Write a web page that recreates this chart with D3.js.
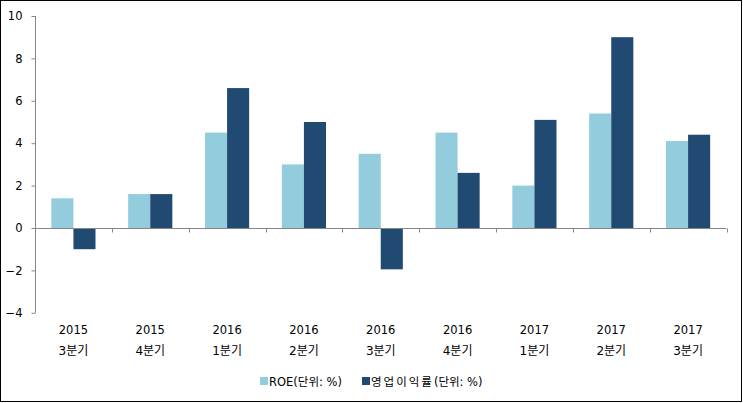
<!DOCTYPE html>
<html>
<head>
<meta charset="utf-8">
<script src="https://cdn.jsdelivr.net/npm/d3@7"></script>
<style>
  body { margin: 0; background: #fff; }
  svg { display: block; }
  text { font-family: "DejaVu Sans", "Noto Sans CJK KR", sans-serif; fill: #000; }
</style>
</head>
<body>
<div id="chart"></div>
<script>
// Data
const years = ['2015', '2015', '2016', '2016', '2016', '2016', '2017', '2017', '2017'];
const quarters = ['3분기', '4분기', '1분기', '2분기', '3분기', '4분기', '1분기', '2분기', '3분기'];
const roe = [1.4, 1.6, 4.5, 3.0, 3.5, 4.5, 2.0, 5.4, 4.1];
const opMargin = [-1.0, 1.6, 6.6, 5.0, -1.95, 2.6, 5.1, 9.0, 4.4];
const seriesNames = [['ROE', '(단위: %)'], ['영업이익률', '(단위: %)']];
const yTicks = [-4, -2, 0, 2, 4, 6, 8, 10];

const WIDTH = 743;
const HEIGHT = 403;
const colors = ['#93CDDD', '#214A72'];
const axisColor = '#868686';

const svg = d3
  .select('#chart')
  .append('svg')
  .attr('width', WIDTH)
  .attr('height', HEIGHT);

// Frame
svg
  .append('rect')
  .attr('x', 0.5)
  .attr('y', 0.5)
  .attr('width', WIDTH - 2)
  .attr('height', HEIGHT - 2)
  .attr('fill', '#fff')
  .attr('stroke', '#000')
  .attr('stroke-width', 1);

const idx = d3.range(years.length);
const x = d3.scaleBand().domain(idx).range([35, 726.5]);
const y = d3.scaleLinear().domain([-4, 10]).range([312.8, 16]);
const inner = d3
  .scaleBand()
  .domain([0, 1])
  .range([0, x.bandwidth()])
  .paddingOuter(0.74)
  .paddingInner(0);

// Bars
const series = [roe, opMargin];
series.forEach((vals, s) => {
  svg
    .append('g')
    .selectAll('rect')
    .data(vals)
    .join('rect')
    .attr('x', (d, i) => x(i) + inner(s))
    .attr('width', inner.bandwidth())
    .attr('y', (d) => y(Math.max(0, d)))
    .attr('height', (d) => Math.abs(y(d) - y(0)))
    .attr('fill', colors[s]);
});

// Y axis
const yAxis = svg
  .append('g')
  .attr('transform', 'translate(35.5,0)')
  .call(d3.axisLeft(y).tickValues(yTicks).tickSize(4).tickPadding(9));
yAxis.selectAll('line, path').attr('stroke', axisColor);
yAxis.select('.domain').attr('d', `M0,${y(-4)}V${y(10)}`);
yAxis
  .selectAll('text')
  .attr('font-size', 11.5)
  .attr('font-family', '"DejaVu Sans", sans-serif');

// X axis at zero
const xg = svg.append('g').attr('transform', `translate(0,${Math.round(y(0)) + 0.5})`);
xg.append('line')
  .attr('x1', 35)
  .attr('x2', 726.5)
  .attr('stroke', axisColor);
xg.selectAll('.tk')
  .data(d3.range(years.length + 1))
  .join('line')
  .attr('x1', (d) => Math.round(x(0) + d * x.step()) + 0.5)
  .attr('x2', (d) => Math.round(x(0) + d * x.step()) + 0.5)
  .attr('y1', 0)
  .attr('y2', 4)
  .attr('stroke', axisColor);

// Category labels
const labels = svg.append('g');
labels
  .selectAll('.yr')
  .data(years)
  .join('text')
  .attr('x', (d, i) => x(i) + x.bandwidth() / 2)
  .attr('y', 334)
  .attr('text-anchor', 'middle')
  .attr('font-size', 11.5)
  .text((d) => d);
labels
  .selectAll('.q')
  .data(quarters)
  .join('text')
  .attr('x', (d, i) => x(i) + x.bandwidth() / 2)
  .attr('y', 355)
  .attr('text-anchor', 'middle')
  .attr('font-size', 12)
  .attr('font-family', '"Noto Sans CJK KR", sans-serif')
  .text((d) => d);

// Legend
const legendX = [260, 362];
const legend = svg
  .append('g')
  .selectAll('g')
  .data(seriesNames)
  .join('g')
  .attr('transform', (d, i) => `translate(${legendX[i]},377)`);
legend
  .append('rect')
  .attr('width', 8)
  .attr('height', 8)
  .attr('fill', (d, i) => colors[i]);
const lt = legend
  .append('text')
  .attr('x', 9)
  .attr('y', 8.5)
  .attr('font-size', 11.5)
  .attr('font-family', '"Noto Sans CJK KR", sans-serif');
lt.append('tspan')
  .attr('letter-spacing', (d, i) => (i === 1 ? 2 : 0))
  .text((d) => d[0]);
lt.append('tspan').text((d) => d[1]);
</script>
</body>
</html>
